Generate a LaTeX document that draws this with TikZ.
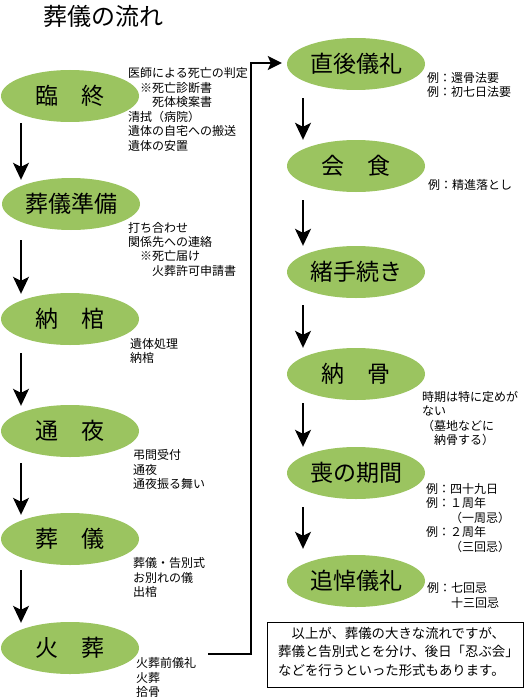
\documentclass[tikz,border=0pt]{standalone}
\usepackage{fontspec}
\setmainfont{Noto Sans CJK JP}
\usetikzlibrary{shapes.geometric,arrows.meta,calc}
\definecolor{leaf}{RGB}{155,196,96}
\newcommand\textlines[6]{\foreach \txt [count=\i from 0] in {#6} {\node[#1] (#2-\i) at (#3,{#4+#5*\i}) {\txt};}}
\begin{document}
\begin{tikzpicture}[x=1pt,y=-1pt,
 stage/.style={ellipse,fill=leaf,minimum width=138pt,minimum height=52pt,inner sep=0pt,font=\fontsize{23}{23}\selectfont},
 note/.style={anchor=base west,inner sep=0pt,font=\fontsize{12}{14}\selectfont},
 memotext/.style={anchor=base west,inner sep=0pt,font=\fontsize{13.4}{16}\selectfont},
 flow/.style={line width=1.5pt,-{Stealth[length=17pt,width=16pt,inset=4pt]}},
 link/.style={line width=1.6pt}]
\useasboundingbox (0,0) rectangle (530,698);
\node[anchor=base west,inner sep=0pt,font=\fontsize{24}{24}\selectfont] (title) at (43,26) {葬儀の流れ};
% left column
\node[stage] (rinju) at (70,96) {臨　終};
\node[stage] (junbi) at (71,204) {葬儀準備};
\node[stage] (nokan) at (70,319) {納　棺};
\node[stage] (tsuya) at (70,431) {通　夜};
\node[stage] (sogi) at (70,539) {葬　儀};
\node[stage] (kaso) at (70,648) {火　葬};
% right column
\node[stage] (chokugo) at (356,64) {直後儀礼};
\node[stage] (kaishoku) at (356,166) {会　食};
\node[stage] (tetsuzuki) at (356,272) {緒手続き};
\node[stage] (nokotsu) at (356,374) {納　骨};
\node[stage] (mo) at (356,473) {喪の期間};
\node[stage] (tsuito) at (356,581) {追悼儀礼};
% notes
\textlines{note}{nRinju}{128}{77.5}{14.6}{医師による死亡の判定,　※死亡診断書,　　死体検案書,清拭（病院）,遺体の自宅への搬送,遺体の安置}
\textlines{note}{nJunbi}{128}{232.5}{14.2}{打ち合わせ,関係先への連絡,　※死亡届け,　　火葬許可申請書}
\textlines{note}{nNokan}{130}{348.5}{14.4}{遺体処理,納棺}
\textlines{note}{nTsuya}{133}{459.5}{14.5}{弔問受付,通夜,通夜振る舞い}
\textlines{note}{nSogi}{133}{567.5}{14.5}{葬儀・告別式,お別れの儀,出棺}
\textlines{note}{nKaso}{136}{667.5}{14.5}{火葬前儀礼,火葬,拾骨}
\textlines{note}{nChokugo}{427}{82.5}{14.2}{例：還骨法要,例：初七日法要}
\textlines{note}{nKaishoku}{428}{189.5}{14.2}{例：精進落とし}
\textlines{note}{nNokotsu}{422}{401.5}{14.4}{時期は特に定めが,ない,（墓地などに,　納骨する）}
\textlines{note}{nMo}{426}{493}{14.5}{例：四十九日,例：１周年,　　（一周忌）,例：２周年,　　（三回忌）}
\textlines{note}{nTsuito}{427}{592.5}{14.5}{例：七回忌,　　十三回忌}
% arrows left
\draw[flow] ($(rinju.south)+(-49,1)$) -- ($(junbi.north)+(-50,2)$);
\draw[flow] ($(junbi.south)+(-50,10)$) -- ($(nokan.north)+(-49,1)$);
\draw[flow] ($(nokan.south)+(-49,8)$) -- ($(tsuya.north)+(-49,1)$);
\draw[flow] ($(tsuya.south)+(-49,6)$) -- ($(sogi.north)+(-49,2)$);
\draw[flow] ($(sogi.south)+(-49,5)$) -- ($(kaso.north)+(-49,1)$);
% arrows right
\draw[flow] ($(chokugo.south)+(-53,8)$) -- ($(kaishoku.north)+(-53,0)$);
\draw[flow] ($(kaishoku.south)+(-53,8)$) -- ($(tetsuzuki.north)+(-53,0)$);
\draw[flow] ($(tetsuzuki.south)+(-53,7)$) -- ($(nokotsu.north)+(-53,0)$);
\draw[flow] ($(nokotsu.south)+(-53,3)$) -- ($(mo.north)+(-53,0)$);
\draw[flow] ($(mo.south)+(-53,8)$) -- ($(tsuito.north)+(-53,-6)$);
% connector from 火葬 to 直後儀礼
\coordinate (kasoEnd) at (208,654);
\coordinate (turnLow) at (251,654);
\coordinate (turnHigh) at (251,63);
\draw[link,-{Stealth[length=14pt,width=14pt,inset=3pt]}] (kasoEnd) -- (turnLow) -- (turnHigh) -- ($(chokugo.west)+(-5,-1)$);
% memo box
\node[draw,line width=1pt,minimum width=256pt,minimum height=65pt,inner sep=0pt] (memo) at (395,654.5) {};
\textlines{memotext}{nMemo}{278}{638}{18.5}{　以上が、葬儀の大きな流れですが、,葬儀と告別式とを分け、後日「忍ぶ会」,などを行うといった形式もあります。}
\end{tikzpicture}
\end{document}
